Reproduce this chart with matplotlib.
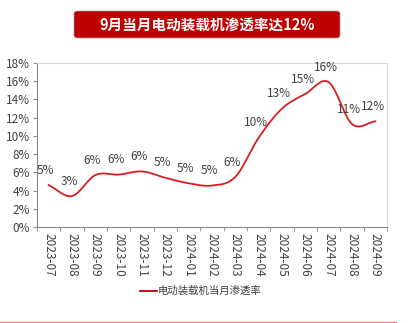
import numpy as np
import matplotlib.pyplot as plt
from matplotlib.patches import FancyBboxPatch
from matplotlib.lines import Line2D

plt.rcParams['font.family'] = ['Noto Sans CJK SC', 'DejaVu Sans']

months = ['2023-07', '2023-08', '2023-09', '2023-10', '2023-11', '2023-12',
          '2024-01', '2024-02', '2024-03', '2024-04', '2024-05', '2024-06',
          '2024-07', '2024-08', '2024-09']
rate = [4.6, 3.4, 5.7, 5.75, 6.1, 5.4, 4.8, 4.55, 5.5, 9.8, 13.0, 14.6, 15.9, 11.3, 11.6]
title = '9月当月电动装载机渗透率达12%'
series_name = '电动装载机当月渗透率'


def smooth(x, y, n=20):
    # catmull-rom style smoothing, like excel's smoothed line
    x = np.asarray(x, float)
    y = np.asarray(y, float)
    px = np.concatenate([[2 * x[0] - x[1]], x, [2 * x[-1] - x[-2]]])
    py = np.concatenate([[2 * y[0] - y[1]], y, [2 * y[-1] - y[-2]]])
    xs, ys = [], []
    for i in range(1, len(px) - 2):
        t = np.linspace(0, 1, n, endpoint=False)
        for p, out in ((px, xs), (py, ys)):
            p0, p1, p2, p3 = p[i - 1], p[i], p[i + 1], p[i + 2]
            out.extend(0.5 * (2 * p1 + (-p0 + p2) * t
                              + (2 * p0 - 5 * p1 + 4 * p2 - p3) * t ** 2
                              + (-p0 + 3 * p1 - 3 * p2 + p3) * t ** 3))
    xs.append(x[-1])
    ys.append(y[-1])
    return np.array(xs), np.array(ys)


fig = plt.figure(figsize=(4.12, 3.23), dpi=100)
ax = fig.add_axes([37 / 412, 1 - 227 / 323, 350 / 412, 164 / 323])

xi = np.arange(len(months))
sx, sy = smooth(xi, rate)
ax.plot(sx, sy, color='#D42020', lw=1.3)

for i, v in enumerate(rate):
    ax.annotate(f'{round(v):.0f}%', (i, v), xytext=(-2, 6), textcoords='offset points',
                ha='center', va='bottom', fontsize=8.5, color='#404040')

ax.set_xlim(-0.5, len(months) - 0.5)
ax.set_ylim(0, 18)
ax.set_yticks(range(0, 19, 2))
ax.set_yticklabels([f'{t}%' for t in range(0, 19, 2)], fontsize=8.5, color='#404040')
ax.set_xticks(xi)
ax.set_xticklabels(months, rotation=-90, fontsize=8.5, color='#404040')
ax.set_xticks(np.arange(-0.5, len(months), 1), minor=True)
ax.tick_params(axis='x', which='major', length=0, pad=4)
ax.tick_params(axis='x', which='minor', length=3, color='#888888')
ax.tick_params(axis='y', length=3, color='#888888', pad=2)
for s in ['left', 'bottom']:
    ax.spines[s].set_color('#888888')
for s in ['top', 'right']:
    ax.spines[s].set_color('#D9D9D9')

# title banner
fig.patches.append(FancyBboxPatch((74 / 412, 1 - 38 / 323), 266 / 412, 27 / 323,
                                  boxstyle='round,pad=0,rounding_size=0.008',
                                  transform=fig.transFigure, facecolor='#C00000',
                                  edgecolor='#A0A0A0', lw=0.5))
fig.text(207 / 412, 1 - 24.5 / 323, title, ha='center', va='center',
         color='white', fontsize=10.5, fontweight='bold')

# legend
fig.lines.append(Line2D([140 / 412, 157 / 412], [1 - 291 / 323] * 2,
                        transform=fig.transFigure, color='#C00000', lw=1.3))
fig.text(158 / 412, 1 - 291 / 323, series_name, ha='left', va='center',
         fontsize=7.5, color='#404040')

# bottom rule
fig.lines.append(Line2D([0, 396 / 412], [1 - 322 / 323] * 2,
                        transform=fig.transFigure, color='#E88080', lw=1))

fig.savefig('out.png', dpi=100)
